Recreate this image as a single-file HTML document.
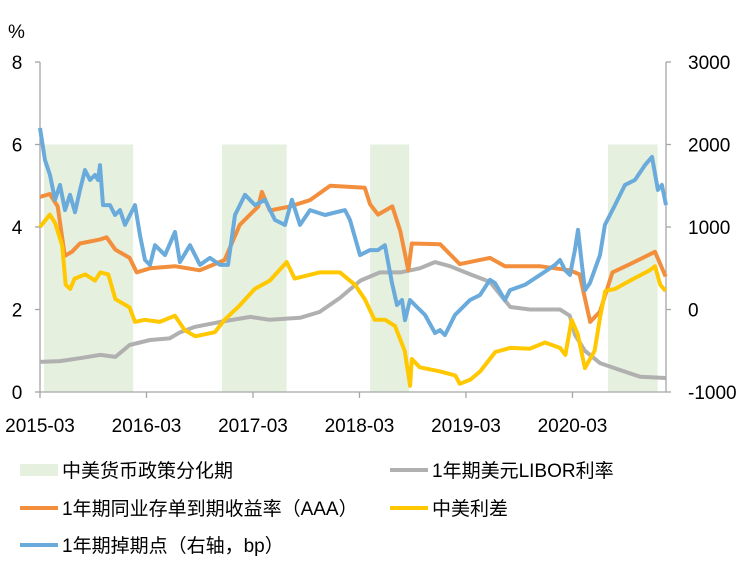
<!DOCTYPE html>
<html><head><meta charset="utf-8"><style>
body{margin:0;background:#fff;width:753px;height:562px;overflow:hidden}
svg text{font-family:"Liberation Sans","Noto Sans CJK SC",sans-serif;font-size:19px;fill:#000}
</style></head><body>
<svg id="c" width="753" height="562"></svg>
<script>
const shadeRanges=[[0.45,10.5],[20.5,27.8],[37.2,41.6],[64,69.6]];
const leftTicks=[0,2,4,6,8];
const rightTicks=[-1000,0,1000,2000,3000];
const xTickMonths=[0,12,24,36,48,60];
const xTickLabels=["2015-03","2016-03","2017-03","2018-03","2019-03","2020-03"];
const orangeM=[0,1.1,2.0,2.8,3.6,4.5,6.8,7.5,8.5,10.1,10.9,12.4,15.2,18.0,20.8,22.5,24.6,25.0,25.9,28.2,30.4,32.7,36.6,37.2,38.1,39.7,40.6,41.5,41.9,45.1,47.3,50.7,52.4,56.3,59.7,60.8,62.0,63.1,64.5,66.5,69.3,70.5];
const orangeV=[4.73,4.8,4.5,3.3,3.4,3.6,3.7,3.75,3.45,3.25,2.9,3.0,3.05,2.95,3.2,4.05,4.5,4.85,4.4,4.5,4.65,5.0,4.95,4.55,4.3,4.5,3.9,2.95,3.6,3.58,3.1,3.25,3.05,3.05,2.95,2.85,1.7,1.95,2.9,3.1,3.4,2.8];
const grayM=[0,2.25,4.5,6.8,8.5,10.1,12.4,14.6,15.8,17.5,20.3,23.7,25.9,29.3,31.5,33.8,36.1,38.3,40.6,42.8,44.5,46.2,48.5,50.7,53.0,55.2,58.6,59.7,60.3,61.4,63.1,65.4,67.6,70.5];
const grayV=[0.73,0.75,0.82,0.9,0.85,1.14,1.26,1.3,1.45,1.58,1.7,1.82,1.75,1.8,1.94,2.28,2.7,2.9,2.9,3.0,3.15,3.05,2.85,2.67,2.06,2.0,2.0,1.85,1.38,1.0,0.7,0.53,0.37,0.34];
const yellowM=[0,1.1,1.7,2.5,2.9,3.4,3.9,5.1,6.2,6.8,7.7,8.5,10.1,10.7,11.8,13.5,15.2,16.3,17.5,19.7,20.8,22.5,24.2,25.9,27.8,28.7,31.5,33.8,35.5,36.6,37.7,38.9,40.0,41.1,41.7,41.9,42.8,45.1,46.8,47.3,48.5,49.6,51.3,53.0,55.2,56.9,58.6,59.2,59.9,60.6,61.4,62.5,63.1,63.7,64.8,66.5,68.7,69.3,69.9,70.5];
const yellowV=[4.0,4.3,4.1,3.55,2.6,2.5,2.75,2.85,2.7,2.9,2.85,2.25,2.05,1.7,1.75,1.7,1.85,1.5,1.35,1.45,1.75,2.1,2.5,2.7,3.15,2.75,2.9,2.9,2.6,2.25,1.75,1.75,1.6,1.0,0.15,0.8,0.6,0.5,0.4,0.2,0.3,0.5,0.97,1.07,1.05,1.2,1.07,0.9,1.75,1.4,0.58,1.0,1.8,2.45,2.5,2.7,2.95,3.05,2.6,2.45];
const blueM=[0,.56,1.13,1.69,2.25,2.82,3.38,3.94,4.51,5.07,5.63,6.2,6.54,6.76,7.1,7.89,8.45,9.01,9.58,10.14,10.7,11.27,11.83,12.39,12.96,14.08,15.21,15.77,16.9,18.03,19.15,20.28,21.18,21.97,23.1,24.23,25.35,26.48,27.61,28.39,29.3,30.42,32.11,34.37,34.93,36.06,37.18,38.08,38.87,39.66,40.23,40.79,41.13,41.69,42.25,43.38,44.51,45.07,45.63,46.76,48.45,49.58,50.7,51.27,52.39,52.96,54.65,56.34,58.03,58.59,59.15,59.72,60.28,60.62,61.07,61.41,61.97,63.1,63.66,64.79,65.92,67.04,68.17,68.96,69.63,70.08,70.54];
const blueV=[2200,1810,1630,1330,1510,1205,1390,1180,1450,1690,1570,1630,1570,1750,1265,1265,1145,1205,1025,1145,1265,900,600,540,780,660,940,575,780,540,625,540,540,1145,1390,1265,1330,1085,1025,1330,1025,1205,1145,1205,1085,660,720,720,780,320,55,115,-130,115,55,-65,-285,-250,-310,-65,115,175,360,320,115,235,300,420,540,600,480,420,720,965,535,235,320,660,1025,1265,1510,1570,1750,1850,1450,1510,1265];

const ns="http://www.w3.org/2000/svg",svg=document.getElementById('c');
const X0=40,X1=666,Y0=392,Y1=62;
const xS=m=>X0+m*(X1-X0)/70.54;
const yL=v=>Y0-(v-0)*(Y0-Y1)/8;
const yR=v=>Y0-(v+1000)*(Y0-Y1)/4000;
function mk(t,a,p){const e=document.createElementNS(ns,t);for(const k in a)e.setAttribute(k,a[k]);(p||svg).appendChild(e);return e;}
shadeRanges.forEach((r,i)=>{const e=mk('rect',{x:xS(r[0]),y:yL(6),width:xS(r[1])-xS(r[0]),height:yL(0)-yL(6),fill:'#e6f0df'});

});
const ax={stroke:'#a6a6a6','stroke-width':1.3};
let e=mk('line',Object.assign({x1:X0,y1:Y1,x2:X0,y2:Y0},ax));
e=mk('line',Object.assign({x1:X1,y1:Y1,x2:X1,y2:Y0},ax));
e=mk('line',Object.assign({x1:X0,y1:Y0,x2:X1,y2:Y0},ax));
leftTicks.forEach(v=>{mk('line',Object.assign({x1:X0-5,y1:yL(v),x2:X0,y2:yL(v)},ax));
const t=mk('text',{x:17,y:yL(v)+7,'text-anchor':'middle'});t.textContent=v;

});
rightTicks.forEach(v=>{mk('line',Object.assign({x1:X1,y1:yR(v),x2:X1+5,y2:yR(v)},ax));
const t=mk('text',{x:688,y:yR(v)+7});t.textContent=v;

});
xTickMonths.forEach((m,i)=>{mk('line',Object.assign({x1:xS(m),y1:Y0,x2:xS(m),y2:Y0+6},ax));
const t=mk('text',{x:xS(m),y:432,'text-anchor':'middle'});t.textContent=xTickLabels[i];

});
e=mk('text',{x:8,y:38,'font-size':'21'});e.textContent='%';
function line(M,V,f,col,name){const d=M.map((m,i)=>(i?'L':'M')+xS(m).toFixed(1)+' '+f(V[i]).toFixed(1)).join(' ');
const p=mk('path',{d:d,fill:'none',stroke:col,'stroke-width':4,'stroke-linejoin':'round'});

}
line(grayM,grayV,yL,'#b0b0b0','libor-line');
line(orangeM,orangeV,yL,'#f28e3c','ncd-yield-line');
line(yellowM,yellowV,yL,'#ffc800','spread-line');
line(blueM,blueV,yR,'#6aabdc','swap-points-line');
function leg(x,y,col,txt,name,box){let s;
if(box)s=mk('rect',{x:x,y:y-6,width:38,height:12,fill:'#e6f0df'});else s=mk('line',{x1:x,y1:y,x2:x+38,y2:y,stroke:col,'stroke-width':4});


const t=mk('text',{x:x+42,y:y+7});t.textContent=txt;

}
leg(20,470,'','中美货币政策分化期','legend-divergence',true);
leg(390,470,'#b0b0b0','1年期美元LIBOR利率','legend-libor');
leg(20,508,'#f28e3c','1年期同业存单到期收益率（AAA）','legend-ncd');
leg(390,508,'#ffc800','中美利差','legend-spread');
leg(20,545,'#6aabdc','1年期掉期点（右轴，bp）','legend-swap');
</script></body></html>
